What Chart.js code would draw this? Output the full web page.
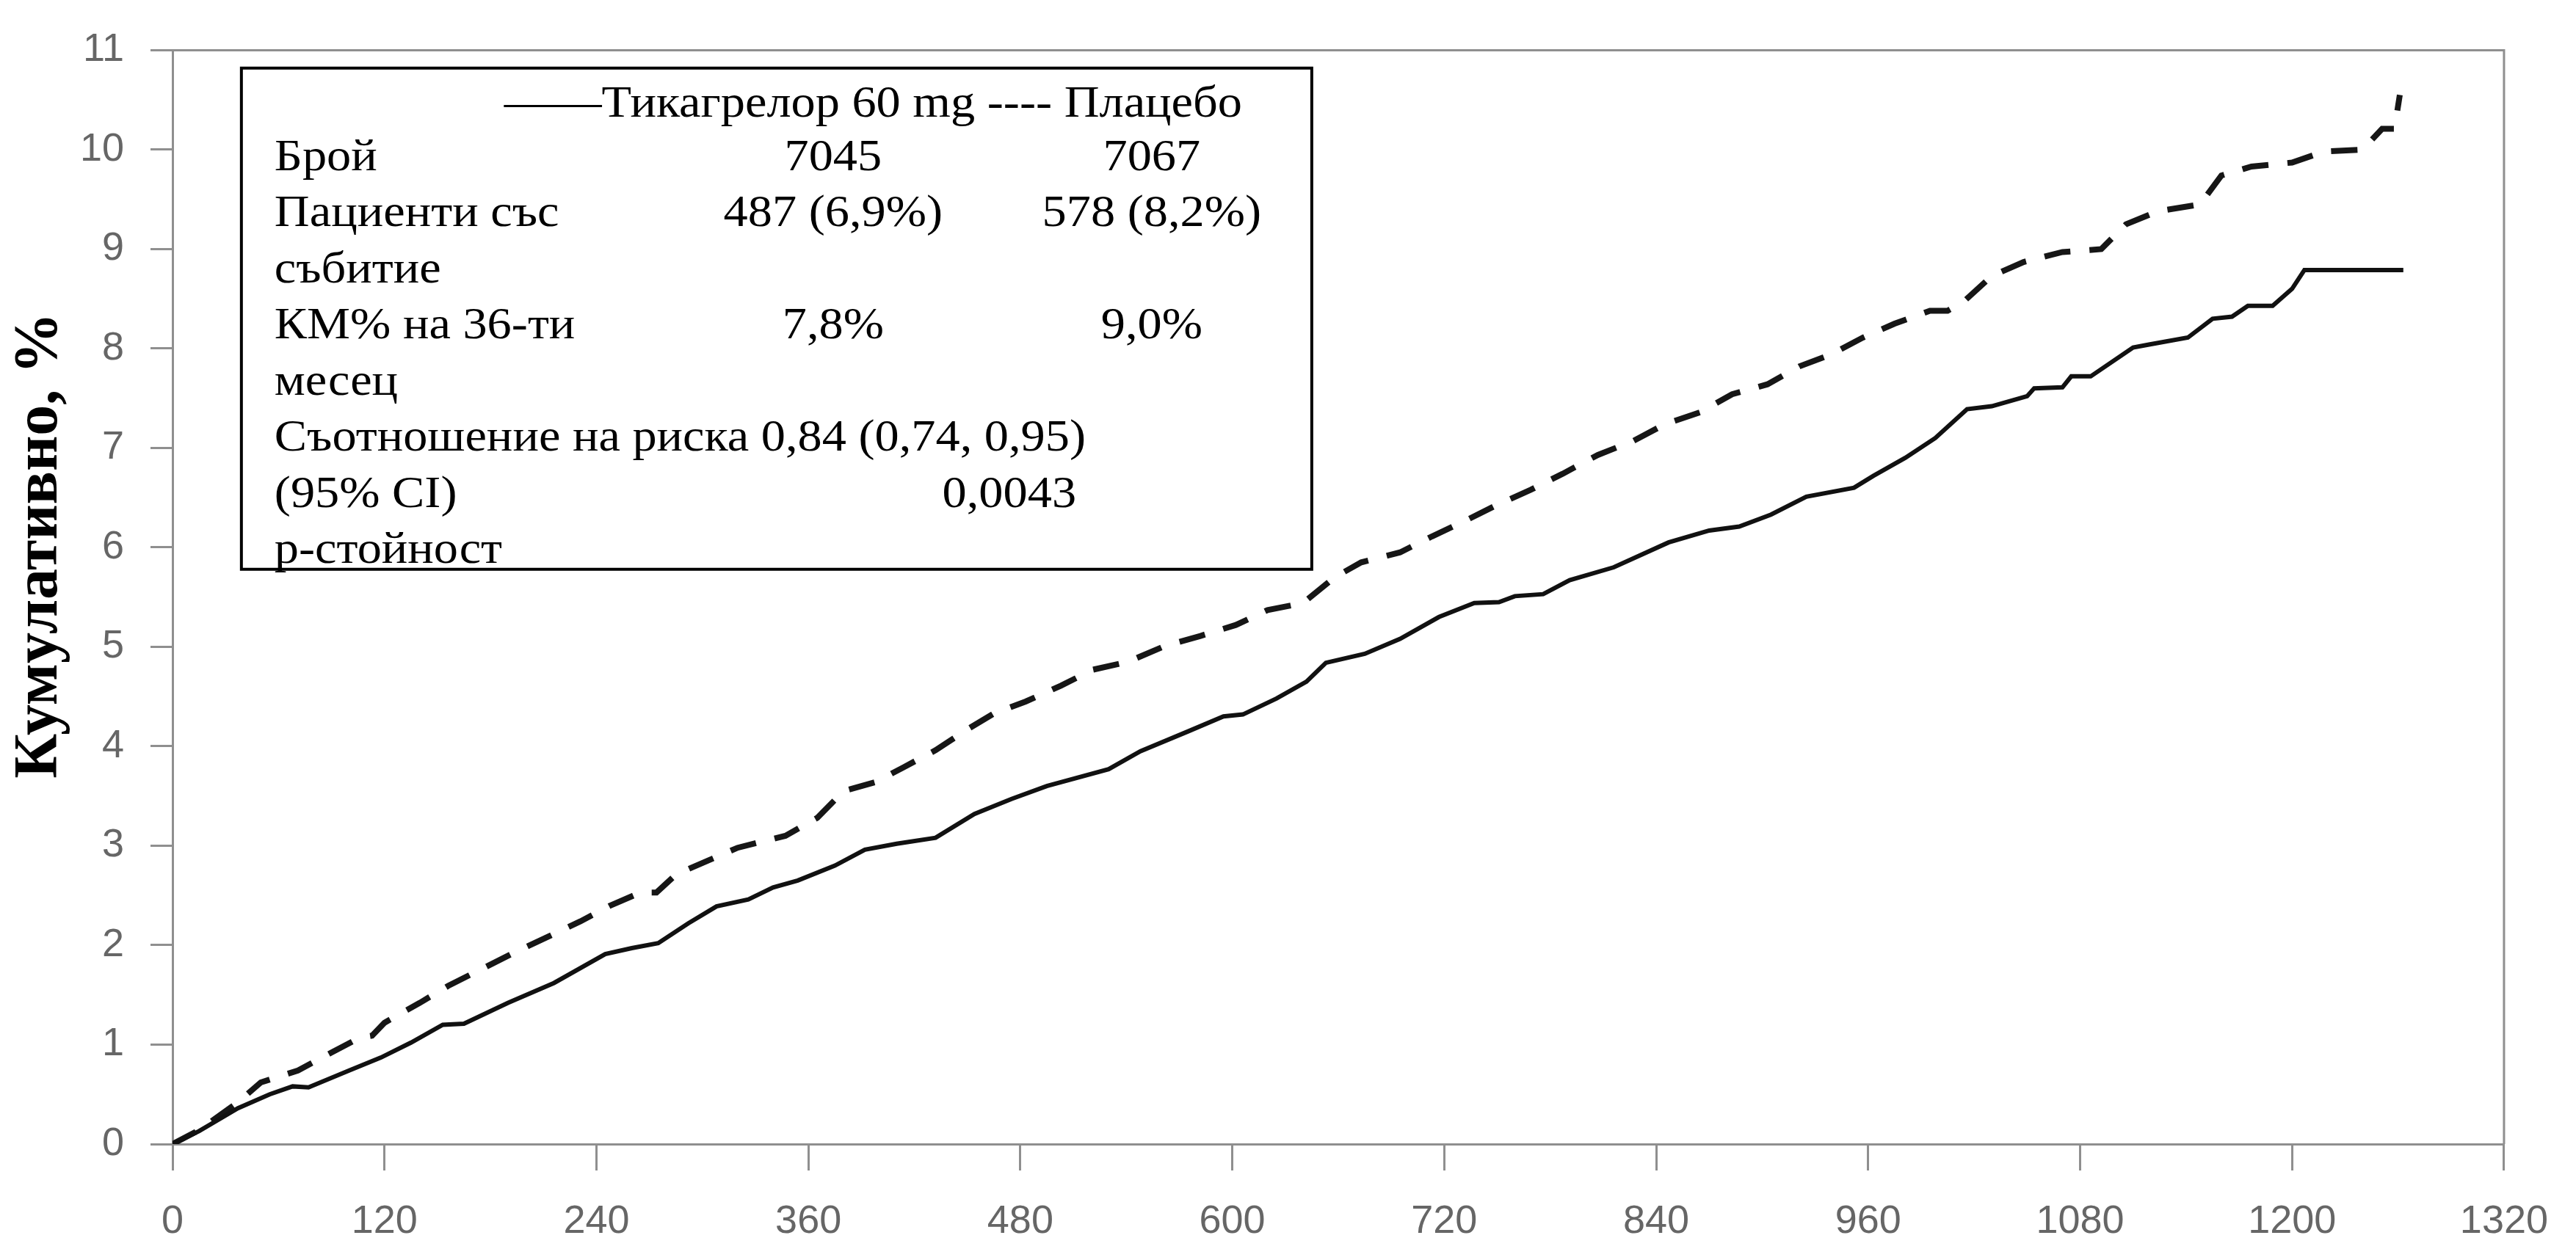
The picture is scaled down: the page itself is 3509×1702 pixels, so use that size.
<!DOCTYPE html>
<html lang="bg">
<head>
<meta charset="utf-8">
<title>Кумулативно, %</title>
<script src="https://cdn.jsdelivr.net/npm/chart.js@4.4.1/dist/chart.umd.min.js"></script>
<style>
  html, body { margin: 0; padding: 0; background: #fff; }
  #wrap { width: 3509px; height: 1702px; }
</style>
</head>
<body>
<div id="wrap"><canvas id="kmChart" width="3509" height="1702"></canvas></div>
<script>
// Kaplan-Meier curves: day -> cumulative %
const ticaDays = [0, 15, 37, 55, 68, 77, 100, 118, 135, 153, 165, 190, 216, 245, 260, 275, 292, 308, 326, 340,
  354, 375, 392, 410, 432, 454, 475, 495, 530, 548, 575, 595, 606, 625, 642, 653, 675, 695, 717, 737,
  751, 760, 776, 791, 816, 847, 870, 887, 905, 925, 952, 963, 981, 998, 1016, 1030, 1050, 1054, 1070, 1075,
  1086, 1110, 1119, 1141, 1155, 1166, 1175, 1189, 1200, 1207, 1263];
const ticaPct = [0, 0.13, 0.36, 0.5, 0.58, 0.57, 0.74, 0.87, 1.02, 1.2, 1.21, 1.42, 1.62, 1.91, 1.97, 2.02, 2.22, 2.39, 2.46, 2.58,
  2.65, 2.8, 2.96, 3.02, 3.08, 3.32, 3.47, 3.6, 3.77, 3.95, 4.15, 4.3, 4.32, 4.48, 4.65, 4.84, 4.93, 5.08, 5.3, 5.44,
  5.45, 5.51, 5.53, 5.67, 5.8, 6.05, 6.17, 6.21, 6.33, 6.51, 6.6, 6.72, 6.9, 7.1, 7.39, 7.42, 7.52, 7.6, 7.61, 7.72,
  7.72, 8.01, 8.04, 8.11, 8.3, 8.32, 8.43, 8.43, 8.6, 8.79, 8.79];

const placDays = [0, 15, 37, 50, 71, 90, 106, 113, 120, 140, 156, 175, 194, 212, 231, 248, 265, 274, 285, 303,
  320, 347, 365, 380, 398, 414, 432, 450, 465, 483, 503, 521, 541, 562, 582, 602, 620, 640, 658, 673,
  695, 713, 731, 749, 769, 787, 807, 827, 845, 865, 883, 903, 921, 939, 957, 975, 995, 1005, 1014, 1030,
  1048, 1070, 1092, 1106, 1124, 1148, 1160, 1177, 1200, 1218, 1240, 1251, 1258, 1261];
const placPct = [0, 0.14, 0.42, 0.62, 0.74, 0.92, 1.07, 1.09, 1.22, 1.42, 1.59, 1.76, 1.93, 2.08, 2.24, 2.4, 2.53, 2.53, 2.71, 2.85,
  2.98, 3.1, 3.28, 3.55, 3.64, 3.79, 3.96, 4.17, 4.33, 4.45, 4.61, 4.77, 4.85, 5.01, 5.11, 5.22, 5.37, 5.44, 5.7, 5.85,
  5.95, 6.11, 6.26, 6.42, 6.58, 6.74, 6.93, 7.07, 7.24, 7.36, 7.54, 7.64, 7.82, 7.94, 8.11, 8.25, 8.38, 8.38, 8.47, 8.73,
  8.87, 8.97, 9.0, 9.25, 9.38, 9.45, 9.74, 9.83, 9.87, 9.98, 10.0, 10.21, 10.21, 10.55];

const xTicks = [0, 120, 240, 360, 480, 600, 720, 840, 960, 1080, 1200, 1320];
const yTicks = [0, 1, 2, 3, 4, 5, 6, 7, 8, 9, 10, 11];

const yTitle = 'Кумулативно, %';
const legendHeader = '——Тикагрелор 60 mg ---- Плацебо';
const legendLabels = ['Брой', 'Пациенти със', 'събитие', 'КМ% на 36-ти', 'месец',
  'Съотношение на риска 0,84 (0,74, 0,95)', '(95% CI)', 'p-стойност'];
const ticaStats = ['7045', '487 (6,9%)', '', '7,8%', '', '', '', ''];
const placStats = ['7067', '578 (8,2%)', '', '9,0%', '', '', '', ''];
const pValueRow = 6;
const pValue = '0,0043';

const axisGrey = '#8f8f8f';
const tickGrey = '#666666';

// draw text a bit wider than the font, like the scanned table
function wideText(ctx, s, x, y, align) {
  ctx.save();
  ctx.translate(x, y);
  ctx.scale(1.07, 1);
  ctx.textAlign = align;
  ctx.fillText(s, 0, 0);
  ctx.restore();
}

const frameAndLegend = {
  id: 'frameAndLegend',
  afterDraw(chart) {
    const { ctx, chartArea: ca, scales: { x, y } } = chart;
    ctx.save();

    // top + right edge of the frame
    ctx.strokeStyle = axisGrey;
    ctx.lineWidth = 3;
    ctx.beginPath();
    ctx.moveTo(ca.left, ca.top);
    ctx.lineTo(ca.right, ca.top);
    ctx.lineTo(ca.right, ca.bottom);
    ctx.stroke();

    // y axis title
    ctx.save();
    ctx.translate(55, y.getPixelForValue(6.02));
    ctx.rotate(-Math.PI / 2);
    ctx.fillStyle = '#000';
    ctx.font = 'bold 84px "Liberation Serif"';
    ctx.textAlign = 'center';
    ctx.textBaseline = 'middle';
    ctx.fillText(yTitle, 0, 0);
    ctx.restore();

    // statistics box
    const left = x.getPixelForValue(39), right = x.getPixelForValue(645);
    const top = y.getPixelForValue(10.82), bottom = y.getPixelForValue(5.78);
    ctx.fillStyle = '#fff';
    ctx.fillRect(left, top, right - left, bottom - top);
    ctx.strokeStyle = '#000';
    ctx.lineWidth = 4;
    ctx.strokeRect(left, top, right - left, bottom - top);

    ctx.fillStyle = '#000';
    ctx.font = '62px "Liberation Serif"';
    ctx.textBaseline = 'alphabetic';
    wideText(ctx, legendHeader, left + 358, top + 66, 'left');
    legendLabels.forEach((lab, i) => {
      const by = top + 139 + i * 76.5;
      wideText(ctx, lab, left + 45, by, 'left');
      if (ticaStats[i]) wideText(ctx, ticaStats[i], left + 806, by, 'center');
      if (placStats[i]) wideText(ctx, placStats[i], left + 1240, by, 'center');
      if (i === pValueRow) wideText(ctx, pValue, left + 1046, by, 'center');
    });

    ctx.restore();
  }
};

function init() {
  Chart.defaults.font.family = '"Liberation Sans", Arial, sans-serif';

  const ctx = document.getElementById('kmChart').getContext('2d');
  new Chart(ctx, {
    type: 'line',
    data: {
      datasets: [{
        label: 'Тикагрелор 60 mg',
        data: ticaDays.map((d, i) => ({ x: d, y: ticaPct[i] })),
        borderColor: '#111',
        borderWidth: 6,
        pointRadius: 0,
        tension: 0,
        fill: false
      }, {
        label: 'Плацебо',
        data: placDays.map((d, i) => ({ x: d, y: placPct[i] })),
        borderColor: '#161616',
        borderWidth: 8,
        borderDash: [36, 26],
        pointRadius: 0,
        tension: 0,
        fill: false
      }]
    },
    options: {
      responsive: false,
      animation: false,
      devicePixelRatio: 1,
      layout: { padding: { left: 0, right: 76, top: 52, bottom: 0 } },
      plugins: { legend: { display: false }, tooltip: { enabled: false } },
      scales: {
        x: {
          type: 'linear',
          min: 0,
          max: 1320,
          afterBuildTicks: s => { s.ticks = xTicks.map(v => ({ value: v })); },
          afterFit: s => { s.height = 143; },
          border: { display: true, color: axisGrey, width: 3 },
          grid: { drawOnChartArea: false, drawTicks: true, tickLength: 36, color: axisGrey, lineWidth: 3 },
          ticks: { color: tickGrey, font: { size: 54 }, padding: 38, maxRotation: 0, autoSkip: false,
                   callback: v => String(v) }
        },
        y: {
          type: 'linear',
          min: 0,
          max: 11,
          afterBuildTicks: s => { s.ticks = yTicks.map(v => ({ value: v })); },
          afterFit: s => { s.width = 235; },
          border: { display: true, color: axisGrey, width: 3 },
          grid: { drawOnChartArea: false, drawTicks: true, tickLength: 30, color: axisGrey, lineWidth: 3 },
          ticks: { color: tickGrey, font: { size: 54 }, padding: 36, autoSkip: false,
                   callback: v => String(v) }
        }
      }
    },
    plugins: [frameAndLegend]
  });
}

document.addEventListener('DOMContentLoaded', init);
</script>
</body>
</html>
